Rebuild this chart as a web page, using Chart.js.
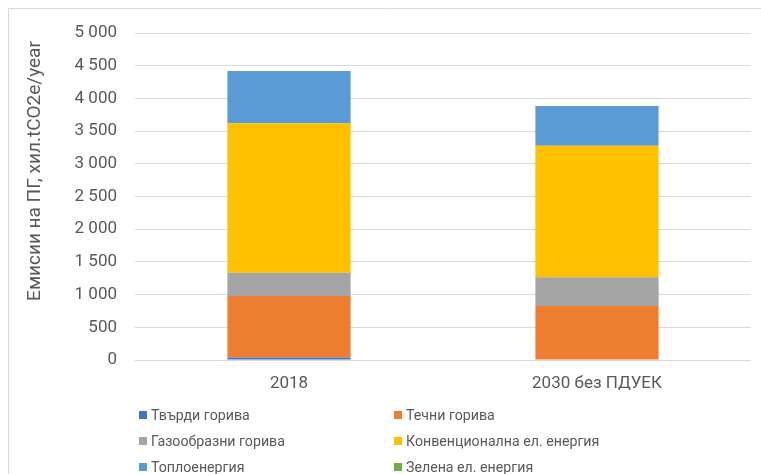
<!DOCTYPE html>
<html>
<head>
<meta charset="utf-8">
<script src="https://cdn.jsdelivr.net/npm/chart.js@4/dist/chart.umd.min.js"></script>
<style>
  html, body { margin: 0; padding: 0; background: #fff; }
  #wrap { position: relative; width: 761px; height: 474px; overflow: hidden; }
  #c { position: absolute; left: 0; top: 0; }
  .lg { position: absolute; font-family: Roboto, sans-serif; font-size: 14.2px; color: #595959; white-space: nowrap; line-height: 18px; }
  .lg i { position: absolute; width: 8px; height: 8px; top: 5px; left: 0; }
  .lg span { position: absolute; left: 12px; top: 0; }
</style>
</head>
<body>
<div id="wrap">
  <canvas id="c" width="761" height="474"></canvas>
</div>
<script>
const categories = ["2018", "2030 без ПДУЕК"];
const seriesNames = ["Твърди горива", "Течни горива", "Газообразни горива", "Конвенционална ел. енергия", "Топлоенергия", "Зелена ел. енергия"];
const solidFuels = [40, 0];
const liquidFuels = [939, 826];
const gaseousFuels = [356, 438];
const conventionalPower = [2284, 2013];
const heatEnergy = [800, 607];
const greenPower = [0, 0];
const seriesColors = ["#4472C4", "#ED7D31", "#A5A5A5", "#FFC000", "#5B9BD5", "#70AD47"];
const yTicks = [0, 500, 1000, 1500, 2000, 2500, 3000, 3500, 4000, 4500, 5000];
const yTitle = "Емисии на ПГ, хил.tCO2e/year";

const seriesValues = [solidFuels, liquidFuels, gaseousFuels, conventionalPower, heatEnergy, greenPower];
const FONT = 'Roboto, sans-serif';
const TXT = "#595959";

function fmt(v) {
  return String(v).replace(/\B(?=(\d{3})+(?!\d))/g, " ");
}

const frame = {
  id: "frame",
  beforeDraw(chart) {
    const ctx = chart.ctx;
    ctx.save();
    ctx.fillStyle = "#fff";
    ctx.fillRect(0, 0, chart.width, chart.height);
    ctx.strokeStyle = "#d9d9d9";
    ctx.lineWidth = 1;
    ctx.beginPath();
    ctx.moveTo(8.5, chart.height + 5);
    ctx.lineTo(8.5, 8.5);
    ctx.lineTo(chart.width + 5, 8.5);
    ctx.stroke();
    ctx.restore();
  },
  afterDraw(chart) {
    const ctx = chart.ctx;
    ctx.save();
    ctx.translate(35, 171);
    ctx.rotate(-Math.PI / 2);
    ctx.font = "19px " + FONT;
    ctx.fillStyle = TXT;
    ctx.textAlign = "center";
    ctx.textBaseline = "middle";
    ctx.fillText(yTitle, 0, 0);
    ctx.restore();
  }
};

const chart = new Chart(document.getElementById("c"), {
  type: "bar",
  data: {
    labels: categories,
    datasets: seriesNames.map((n, i) => ({
      label: n,
      data: seriesValues[i],
      backgroundColor: seriesColors[i],
      borderWidth: 0,
      barPercentage: 0.4,
      categoryPercentage: 1
    }))
  },
  options: {
    responsive: false,
    animation: false,
    events: [],
    layout: { padding: { top: 33, right: 10, bottom: 84, left: 0 } },
    plugins: { legend: { display: false }, tooltip: { enabled: false } },
    scales: {
      x: {
        stacked: true,
        grid: { display: false, drawTicks: false },
        border: { display: false },
        ticks: { font: { family: FONT, size: 17 }, color: TXT, padding: 14 },
        afterFit(s) { s.height = 30; }
      },
      y: {
        stacked: true,
        min: 0,
        max: 5000,
        afterBuildTicks(s) { s.ticks = yTicks.map(v => ({ value: v })); },
        grid: { color: "#d9d9d9", lineWidth: 1, drawTicks: false },
        border: { display: false },
        ticks: { font: { family: FONT, size: 17 }, color: TXT, padding: 18, callback: v => fmt(v) },
        afterFit(s) { s.width = 135; }
      }
    }
  },
  plugins: [frame]
});

const wrap = document.getElementById("wrap");
const colX = [139, 394];
const rowY = [406, 432, 458];
seriesNames.forEach((n, i) => {
  const d = document.createElement("div");
  d.className = "lg";
  d.style.left = colX[i % 2] + "px";
  d.style.top = rowY[Math.floor(i / 2)] + "px";
  const m = document.createElement("i");
  m.style.background = seriesColors[i];
  const t = document.createElement("span");
  t.textContent = n;
  d.appendChild(m);
  d.appendChild(t);
  wrap.appendChild(d);
});
</script>
</body>
</html>
